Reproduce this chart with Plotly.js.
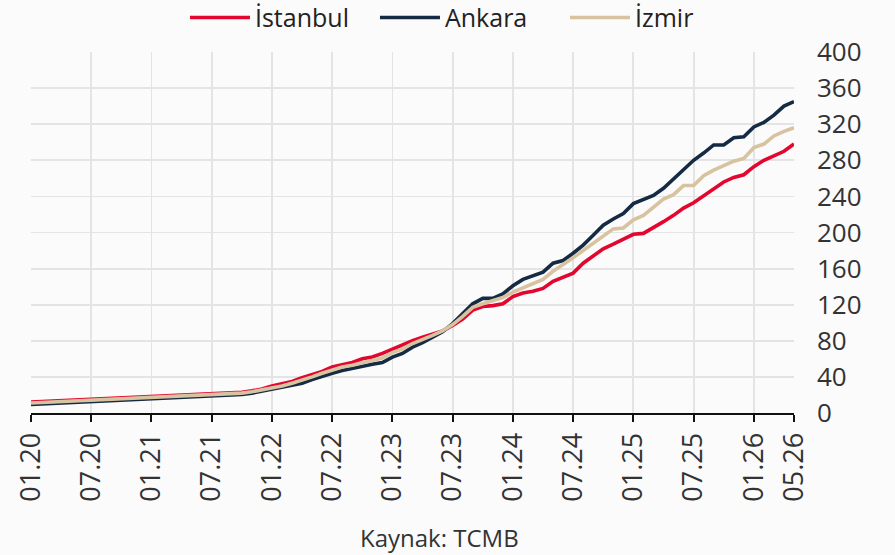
<!DOCTYPE html>
<html><head><meta charset="utf-8">
<script src="https://cdn.plot.ly/plotly-3.0.1.min.js"></script>
<style>html,body{margin:0;padding:0;background:#fbfbfb;}</style>
</head><body>
<div id="chart" style="width:895px;height:555px;"></div>
<script>
const months = [];
const yrs = [20,21,22,23,24,25,26];
for (const y of yrs) for (let m = 1; m <= 12; m++) {
  if (y === 26 && m > 5) break;
  months.push(String(m).padStart(2,'0') + '.' + y);
}
const tickLabels = ['01.20','07.20','01.21','07.21','01.22','07.22','01.23','07.23','01.24','07.24','01.25','07.25','01.26','05.26'];
const yTicks = [0,40,80,120,160,200,240,280,320,360,400];

const istanbul = [12,12.5,13,13.5,14,14.5,15,15.5,16,16.5,17,17.5,
  18,18.5,19,19.5,20,20.5,21,21.5,22,23,24.5,26.5,
  30,32,35,39,42,46,51,53,56,60,62,66,
  71,75,80,84,87,91,97,104,114,118,119,121,
  129,133,135,138,146,150,155,166,174,182,187,192,
  198,199,205,212,219,227,233,241,249,256,261,264,
  273,280,285,290,298];
const ankara = [9.5,10,10.5,11,11.5,12,12.5,13,13.5,14,14.5,15,
  15.5,16,16.5,17,17.5,18,18.5,19,19.5,20.5,22,24,
  26,28,31,33,37,41,44,47,49,52,54,56,
  62,66,73,78,84,90,99,110,121,127,127,132,
  141,148,152,156,166,169,177,186,197,208,215,221,
  232,237,241,249,259,270,280,288,297,297,305,306,
  317,322,330,340,345];
const izmir = [11,11.5,12,12.5,13,13.5,14,14.5,15,15.5,16,16.5,
  17,17.5,18,18.5,19,19.5,20,20.5,21,22,23.5,25.5,
  28,30,33,36,40,44,48,51,53,56,59,61,
  67,71,77,81,86,91,98,107,117,121,124,128,
  134,139,143,148,157,164,172,180,188,197,204,205,
  214,219,228,237,242,252,252,263,269,274,279,282,
  294,298,307,312,316];

const mk = (name, ys, color) => ({
  type:'scatter', mode:'lines', name, x: months, y: ys,
  line:{color, width:3.6}
});
const data = [
  mk('İstanbul', istanbul, '#e3062f'),
  mk('Ankara', ankara, '#152a43'),
  mk('İzmir', izmir, '#d8c3a1')
];
const FF = 'Open Sans, sans-serif';
const layout = {
  width:895, height:555,
  margin:{l:31, r:101, t:52, b:142, autoexpand:false},
  paper_bgcolor:'#fbfbfb', plot_bgcolor:'#fbfbfb',
  font:{family:FF, size:20, color:'#333'},
  showlegend:true,
  legend:{orientation:'h', x:0.2018, xanchor:'left', yref:'container', y:0.968, yanchor:'middle',
    font:{family:FF, size:25, color:'#222'}, bgcolor:'rgba(0,0,0,0)', itemwidth:60,
    entrywidth:115, entrywidthmode:'pixels'},
  xaxis:{type:'category', range:[0,76], tickmode:'array', tickvals: tickLabels, ticktext: tickLabels,
    tickangle:-90, showgrid:true, gridcolor:'#e4e4e4', gridwidth:1.8,
    showline:true, linecolor:'#111', linewidth:2, ticks:'outside', ticklen:7, tickwidth:2, tickcolor:'#111',
    tickfont:{family:FF, size:27, color:'#333'}, zeroline:false, fixedrange:true},
  yaxis:{side:'right', range:[0,400], tickmode:'array', tickvals:yTicks,
    showgrid:true, gridcolor:'#e4e4e4', gridwidth:1.8, zeroline:false, showline:false, ticks:'',
    ticklabelstandoff:22,
    tickfont:{family:FF, size:26, color:'#333'}, fixedrange:true},
  annotations:[{text:'Kaynak: TCMB', xref:'paper', yref:'paper', x:0.535, y:-0.346,
    xanchor:'center', yanchor:'middle', showarrow:false,
    font:{family:FF, size:24, color:'#333'}}]
};
Plotly.newPlot('chart', data, layout, {displayModeBar:false, staticPlot:true});
</script>
</body></html>
